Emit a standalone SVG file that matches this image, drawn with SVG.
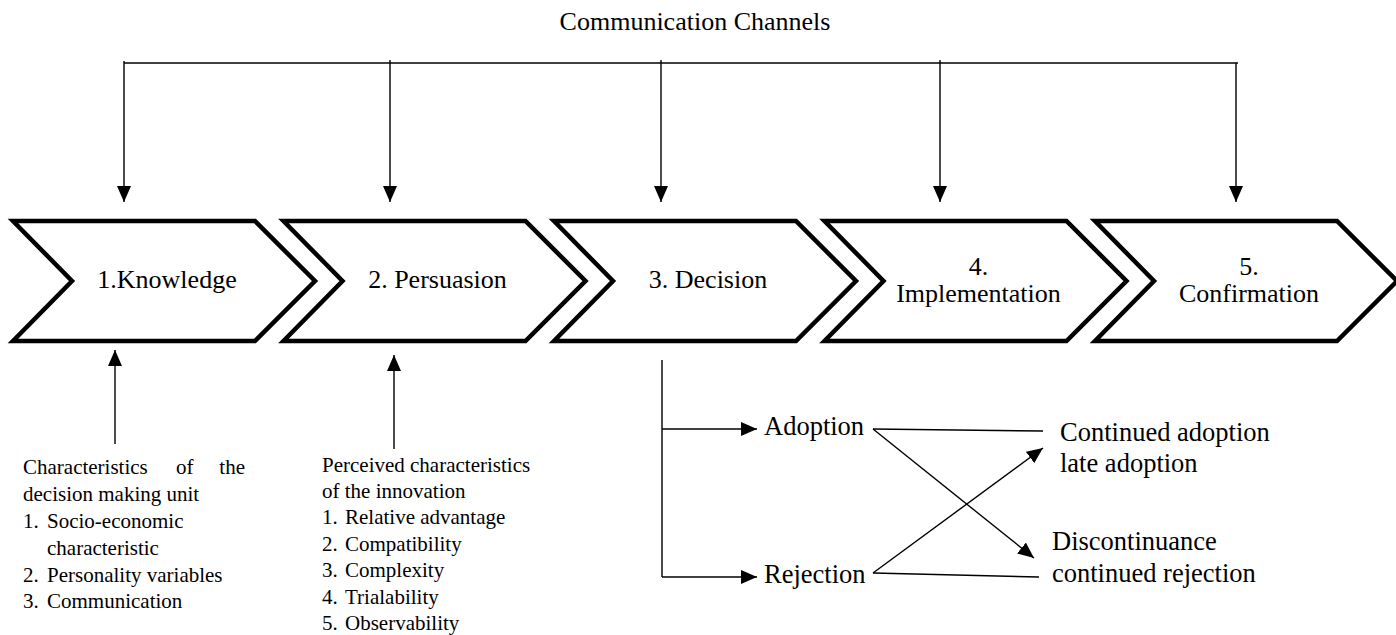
<svg xmlns="http://www.w3.org/2000/svg" width="1396" height="635" viewBox="0 0 1396 635">
<defs>
<style>
.t{font-family:"Liberation Serif","Times New Roman",serif;fill:#000}
.c{font-size:26px;text-anchor:middle}
.s{font-size:21px}
.l{font-size:26.5px}
.chev{fill:#fff;stroke:#000;stroke-width:4.5;stroke-linejoin:miter}
.ln{fill:none;stroke:#000;stroke-width:1.4}
.ar{marker-end:url(#ah)}
</style>
<marker id="ah" markerUnits="userSpaceOnUse" markerWidth="17" markerHeight="14" refX="16" refY="7" orient="auto">
<path d="M0,0 L16,7 L0,14 z" fill="#000"/>
</marker>
<polygon id="chv" points="0,0 242,0 302,60 242,120 0,120 59,60"/>
</defs>
<rect width="1396" height="635" fill="#fff"/>

<g id="title"><text class="t c" x="695" y="30">Communication Channels</text></g>

<g id="connectors">
<line class="ln" x1="124" y1="63" x2="1238" y2="63"/>
<line class="ln ar" x1="124" y1="61" x2="124" y2="202"/>
<line class="ln ar" x1="390" y1="60" x2="390" y2="202"/>
<line class="ln ar" x1="661" y1="60" x2="661" y2="202"/>
<line class="ln ar" x1="940" y1="60" x2="940" y2="202"/>
<line class="ln ar" x1="1236" y1="63" x2="1236" y2="202"/>
<line class="ln ar" x1="115" y1="444" x2="115" y2="350"/>
<line class="ln ar" x1="394" y1="449" x2="394" y2="355"/>
<polyline class="ln" points="662,360 662,577"/>
<line class="ln ar" x1="662" y1="429" x2="757" y2="429"/>
<line class="ln ar" x1="662" y1="577" x2="757" y2="577"/>
<line class="ln" x1="873" y1="429" x2="1043" y2="431"/>
<line class="ln ar" x1="873" y1="429" x2="1034" y2="558"/>
<line class="ln ar" x1="873" y1="573" x2="1043" y2="448"/>
<line class="ln" x1="873" y1="573" x2="1039" y2="577"/>
</g>

<g id="knowledge"><use href="#chv" class="chev" x="13" y="221"/><text class="t c" x="167" y="288">1.Knowledge</text></g>
<g id="persuasion"><use href="#chv" class="chev" x="283.5" y="221"/><text class="t c" x="437.5" y="288">2. Persuasion</text></g>
<g id="decision"><use href="#chv" class="chev" x="554" y="221"/><text class="t c" x="708" y="288">3. Decision</text></g>
<g id="implementation"><use href="#chv" class="chev" x="824.5" y="221"/><text class="t c" x="978.5" y="275">4.</text><text class="t c" x="978.5" y="302">Implementation</text></g>
<g id="confirmation"><use href="#chv" class="chev" x="1095" y="221"/><text class="t c" x="1249" y="275">5.</text><text class="t c" x="1249" y="302">Confirmation</text></g>

<g id="unit-characteristics" class="t s">
<text x="23" y="474">Characteristics</text>
<text x="176" y="474">of</text>
<text x="245" y="474" text-anchor="end">the</text>
<text x="23" y="501">decision making unit</text>
<text x="23" y="528">1.</text><text x="47" y="528">Socio-economic</text>
<text x="47" y="555">characteristic</text>
<text x="23" y="581.5">2.</text><text x="47" y="581.5">Personality variables</text>
<text x="23" y="608">3.</text><text x="47" y="608">Communication</text>
</g>

<g id="innovation-characteristics" class="t s">
<text x="322" y="471.5">Perceived characteristics</text>
<text x="322" y="497.5">of the innovation</text>
<text x="322" y="524">1.</text><text x="345" y="524">Relative advantage</text>
<text x="322" y="550.5">2.</text><text x="345" y="550.5">Compatibility</text>
<text x="322" y="577">3.</text><text x="345" y="577">Complexity</text>
<text x="322" y="603.5">4.</text><text x="345" y="603.5">Trialability</text>
<text x="322" y="630">5.</text><text x="345" y="630">Observability</text>
</g>

<g id="adoption"><text class="t l" x="764" y="435">Adoption</text></g>
<g id="rejection"><text class="t l" x="764" y="583">Rejection</text></g>
<g id="continued-adoption"><text class="t l" x="1060" y="441">Continued adoption</text><text class="t l" x="1060" y="471.5">late adoption</text></g>
<g id="discontinuance"><text class="t l" x="1052" y="550">Discontinuance</text><text class="t l" x="1052" y="581.5">continued rejection</text></g>
</svg>
